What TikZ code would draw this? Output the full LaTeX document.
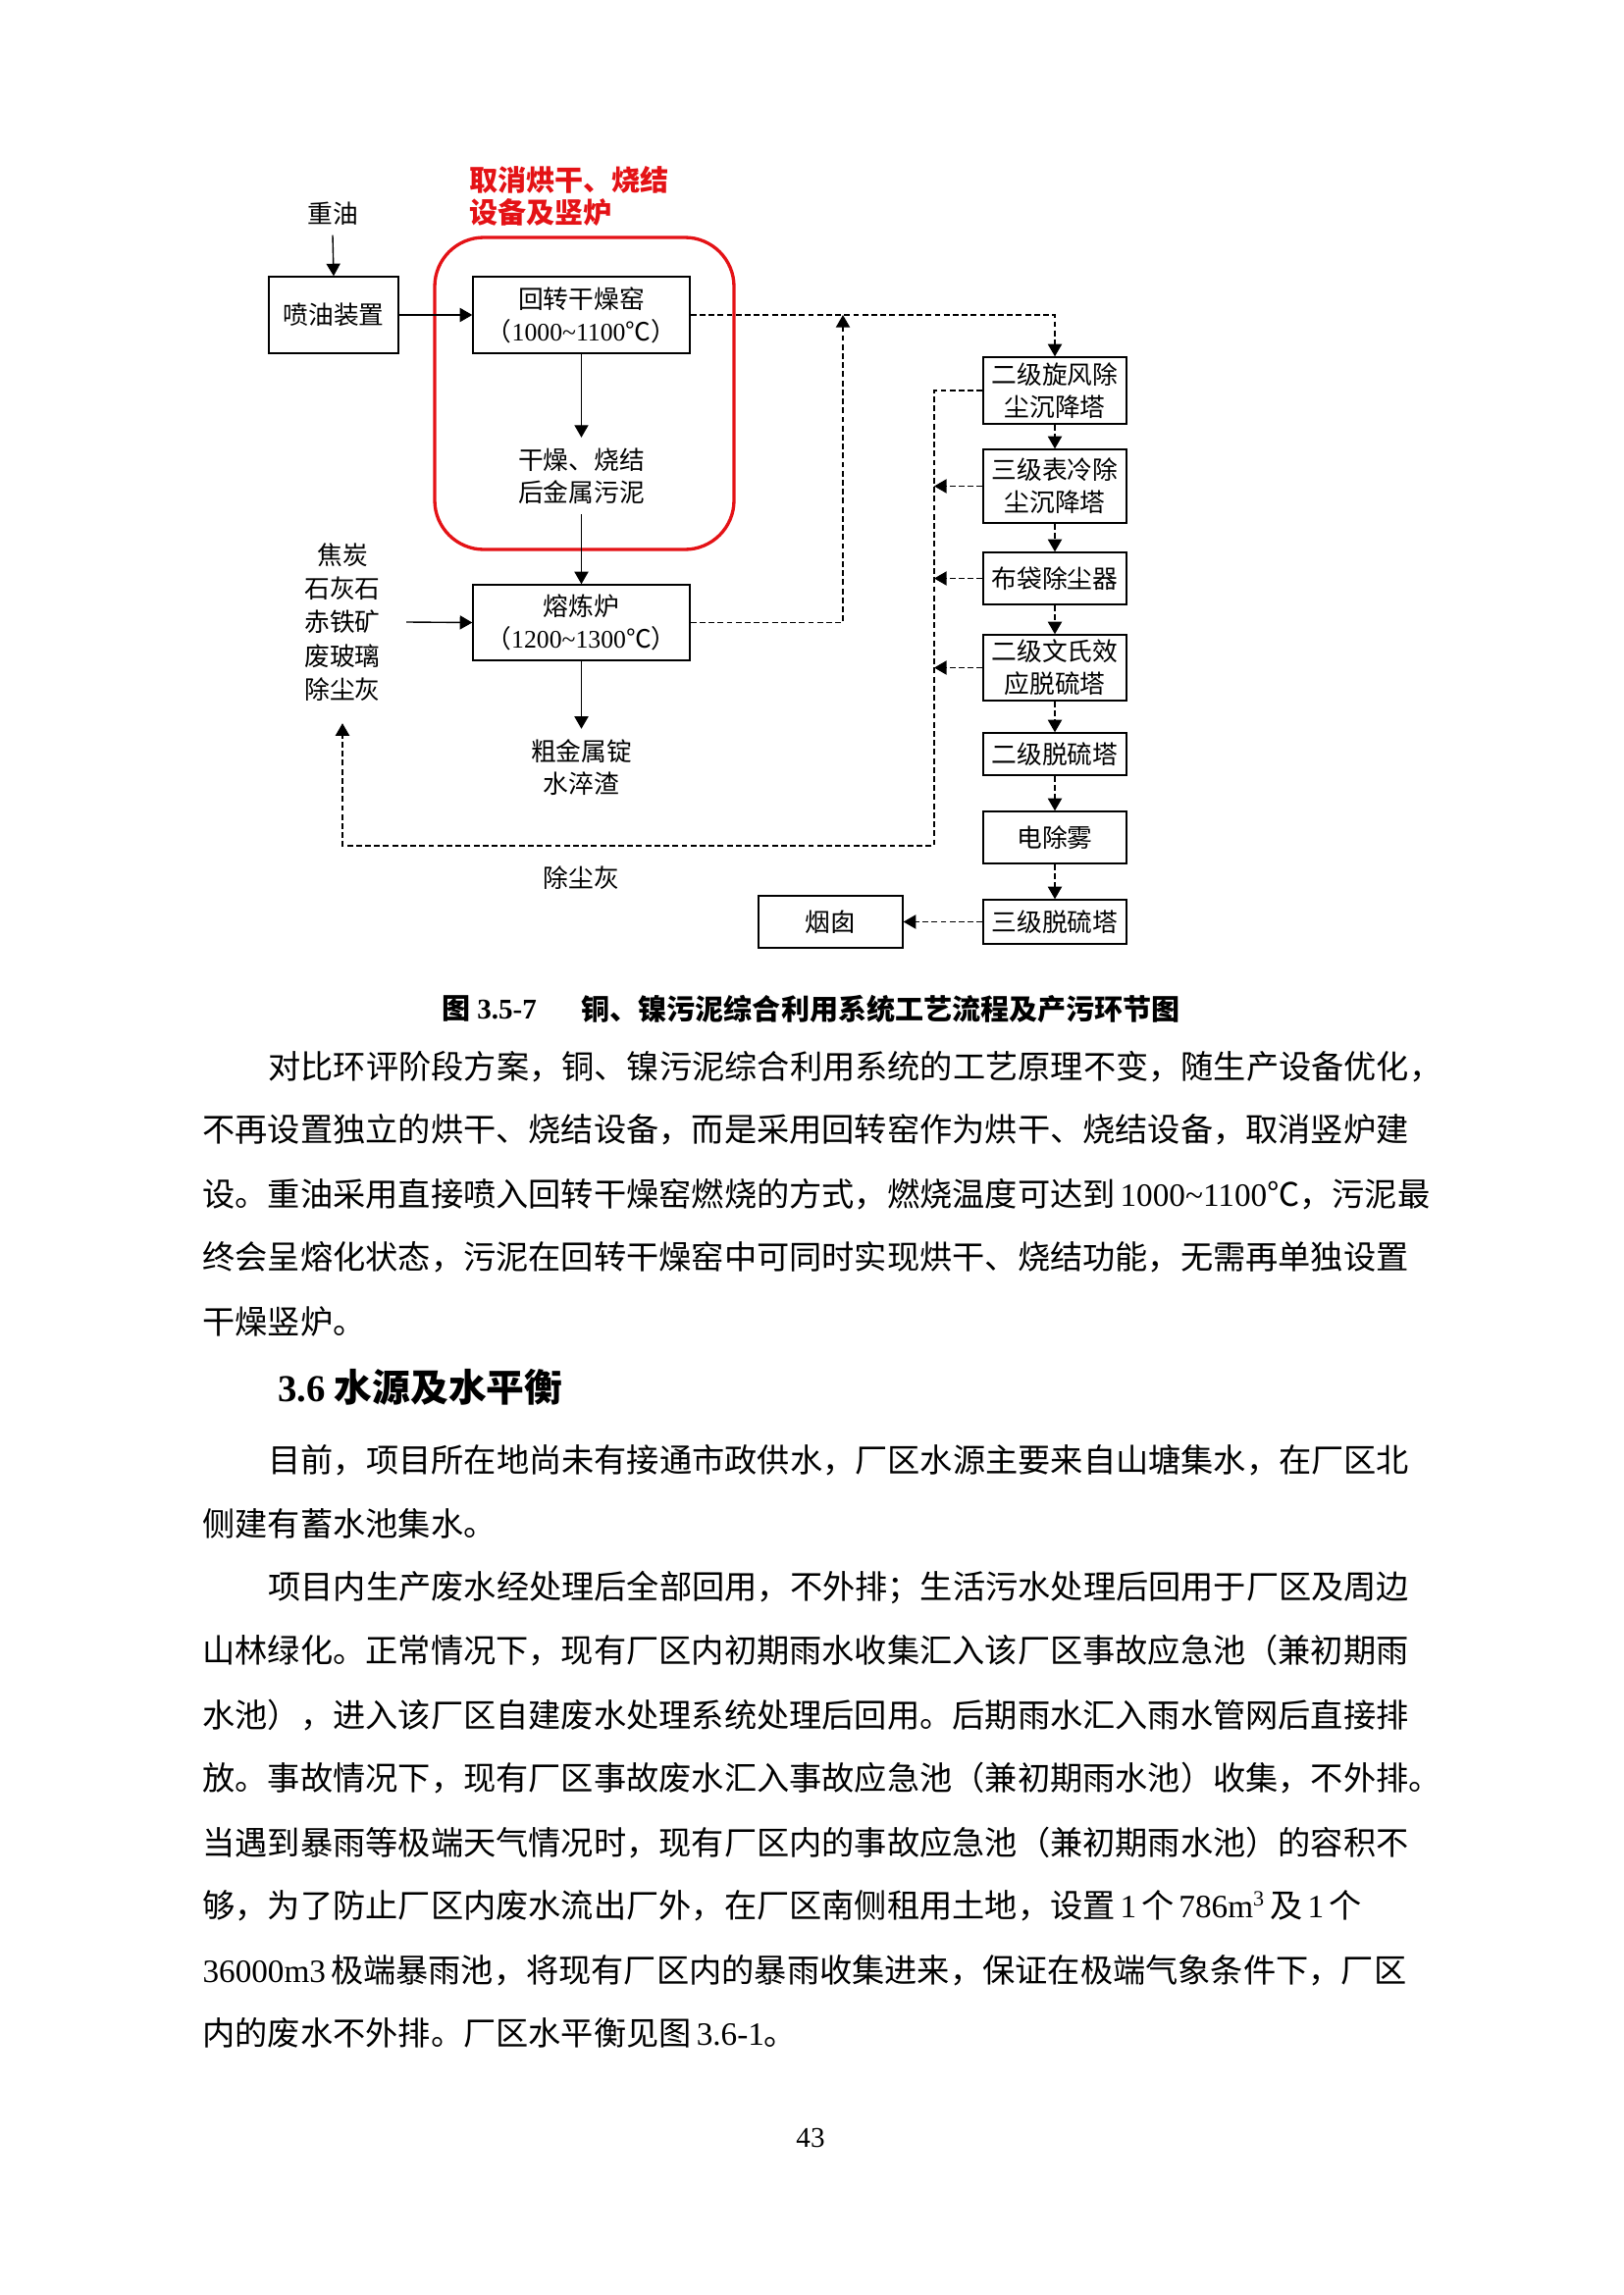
\documentclass[tikz,border=0pt]{standalone}
\usepackage{fontspec}
\setmainfont{Noto Sans CJK SC}
\newfontfamily\tnr{Liberation Serif}
\usetikzlibrary{arrows.meta}
\definecolor{redline}{RGB}{228,18,22}
\newcommand\dfont{\fontsize{9.3pt}{11.9pt}\selectfont}
\newcommand\btext{\fontsize{12pt}{14pt}\selectfont}
\newcommand\gp{\hspace{0.15em}}
\begin{document}
\begin{tikzpicture}[x=0.12697mm,y=-0.12697mm,
  box/.style={draw,line width=0.5pt,inner sep=0pt,align=center,font=\dfont},
  lbl/.style={align=center,font=\dfont},
  arr/.style={line width=0.5pt,-{Triangle[length=1.6mm,width=1.8mm]}},
  darr/.style={arr,dash pattern=on 0.75mm off 0.42mm},
  body/.style={anchor=west,inner sep=0pt,font=\btext},
]
\fill[white] (0,0) rectangle (1654,2339);
\useasboundingbox (0,0) rectangle (1654,2339);

% ---------- diagram ----------
\node[lbl] (zy) at (339,218) {重油};
\node[box,minimum width=16.76mm,minimum height=9.9mm] (pyzz) at (340,321) {喷油装置};
\node[box,minimum width=28.06mm,minimum height=9.9mm] (hz) at (592.5,321) {回转干燥窑\\（{\tnr 1000\textasciitilde1100}℃）};
\node[lbl,inner sep=1.3mm] (gz) at (592.5,485) {干燥、烧结\\后金属污泥};
\node[box,minimum width=28.06mm,minimum height=9.78mm] (rl) at (592.5,634.5) {熔炼炉\\（{\tnr 1200\textasciitilde1300}℃）};
\node[lbl,font=\fontsize{9.3pt}{12.4pt}\selectfont,inner xsep=3.3mm,inner ysep=2.8mm] (ll) at (349,634) {焦炭\\石灰石\\赤铁矿\\废玻璃\\除尘灰};
\node[lbl,inner sep=1.3mm] (cj) at (592.5,782) {粗金属锭\\水淬渣};
\node[lbl] (cch) at (592.5,895) {除尘灰};

\node[anchor=west,inner sep=0pt,align=left,text=redline,font=\fontsize{10.5pt}{12.2pt}\selectfont\bfseries] (rt) at (478,200) {取消烘干、烧结\\设备及竖炉};
\draw[redline,line width=1.2pt,rounded corners=6.35mm] (443,242) rectangle (748,560);

\node[box,minimum width=18.54mm,minimum height=8.63mm] (c1) at (1075,398) {二级旋风除\\尘沉降塔};
\node[box,minimum width=18.54mm,minimum height=9.52mm] (c2) at (1075,495.5) {三级表冷除\\尘沉降塔};
\node[box,minimum width=18.54mm,minimum height=6.73mm] (c3) at (1075,589.5) {布袋除尘器};
\node[box,minimum width=18.54mm,minimum height=8.5mm] (c4) at (1075,680.5) {二级文氏效\\应脱硫塔};
\node[box,minimum width=18.54mm,minimum height=5.46mm] (c5) at (1075,768.5) {二级脱硫塔};
\node[box,minimum width=18.54mm,minimum height=6.73mm] (c6) at (1075,853.5) {电除雾};
\node[box,minimum width=18.54mm,minimum height=5.71mm] (c7) at (1075,939.5) {三级脱硫塔};
\node[box,minimum width=18.66mm,minimum height=6.73mm] (yc) at (846.5,939.5) {烟囱};

\coordinate (j1) at (859,321);
\coordinate (cb) at (952,862);

\draw[arr] (zy.south) -- (pyzz.north);
\draw[arr] (pyzz.east) -- (hz.west);
\draw[arr] (hz.south) -- (gz.north);
\draw[arr] (gz.south) -- (rl.north);
\draw[arr] (ll.east) -- (rl.west);
\draw[arr] (rl.south) -- (cj.north);

\draw[darr] (hz.east) -| (c1.north);
\draw[darr] (rl.east) -| (j1);
\draw[darr] (c1.south) -- (c2.north);
\draw[darr] (c2.south) -- (c3.north);
\draw[darr] (c3.south) -- (c4.north);
\draw[darr] (c4.south) -- (c5.north);
\draw[darr] (c5.south) -- (c6.north);
\draw[darr] (c6.south) -- (c7.north);
\draw[darr] (c7.west) -- (yc.east);

\draw[darr] (c1.west) -| (cb) -| (ll.south);
\draw[darr] (c2.west) -- (c2.west -| cb);
\draw[darr] (c3.west) -- (c3.west -| cb);
\draw[darr] (c4.west) -- (c4.west -| cb);

% ---------- caption ----------
\node[anchor=west,inner sep=0pt,font=\fontsize{10.5pt}{12pt}\selectfont\bfseries] (cap1) at (450,1028) {图 {\tnr\bfseries 3.5-7}};
\node[anchor=west,inner sep=0pt,font=\fontsize{10.5pt}{12pt}\selectfont\bfseries] (cap2) at (592,1028) {铜、镍污泥综合利用系统工艺流程及产污环节图};

% ---------- body text ----------
\node[body] (p1a) at (273,1087) {对比环评阶段方案，铜、镍污泥综合利用系统的工艺原理不变，随生产设备优化，};
\node[body] (p1b) at (206,1151) {不再设置独立的烘干、烧结设备，而是采用回转窑作为烘干、烧结设备，取消竖炉建};
\node[body] (p1c) at (206,1217) {设。重油采用直接喷入回转干燥窑燃烧的方式，燃烧温度可达到\gp{\tnr 1000\textasciitilde1100}℃，污泥最};
\node[body] (p1d) at (206,1281) {终会呈熔化状态，污泥在回转干燥窑中可同时实现烘干、烧结功能，无需再单独设置};
\node[body] (p1e) at (206,1347) {干燥竖炉。};

\node[anchor=west,inner sep=0pt,font=\fontsize{14pt}{16pt}\selectfont\bfseries] (h36) at (283,1414) {{\tnr\bfseries 3.6} 水源及水平衡};

\node[body] (p2a) at (273,1488) {目前，项目所在地尚未有接通市政供水，厂区水源主要来自山塘集水，在厂区北};
\node[body] (p2b) at (206,1553) {侧建有蓄水池集水。};

\node[body] (p3a) at (273,1618) {项目内生产废水经处理后全部回用，不外排；生活污水处理后回用于厂区及周边};
\node[body] (p3b) at (206,1682) {山林绿化。正常情况下，现有厂区内初期雨水收集汇入该厂区事故应急池（兼初期雨};
\node[body] (p3c) at (206,1748) {水池），进入该厂区自建废水处理系统处理后回用。后期雨水汇入雨水管网后直接排};
\node[body] (p3d) at (206,1812) {放。事故情况下，现有厂区事故废水汇入事故应急池（兼初期雨水池）收集，不外排。};
\node[body] (p3e) at (206,1878) {当遇到暴雨等极端天气情况时，现有厂区内的事故应急池（兼初期雨水池）的容积不};
\node[body] (p3f) at (206,1942) {够，为了防止厂区内废水流出厂外，在厂区南侧租用土地，设置\gp{\tnr 1}\gp 个\gp{\tnr 786m\textsuperscript{3}}\gp 及\gp{\tnr 1}\gp 个};
\node[body] (p3g) at (206,2008) {{\tnr 36000m3}\gp 极端暴雨池，将现有厂区内的暴雨收集进来，保证在极端气象条件下，厂区};
\node[body] (p3h) at (206,2072) {内的废水不外排。厂区水平衡见图\gp{\tnr 3.6-1}。};

\node[inner sep=0pt,font=\tnr\fontsize{10.5pt}{12pt}\selectfont] (pg) at (826,2179) {43};
\end{tikzpicture}
\end{document}
